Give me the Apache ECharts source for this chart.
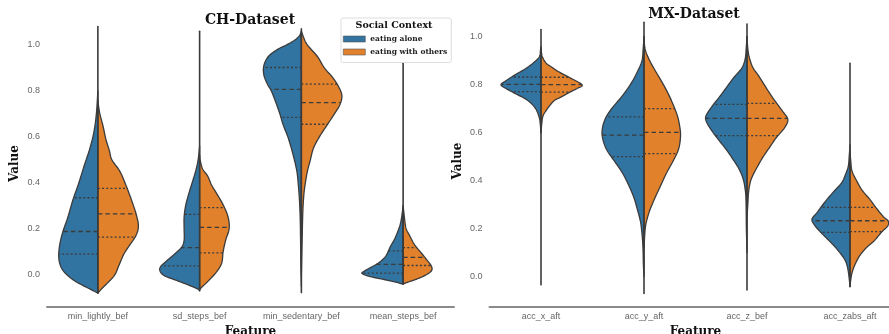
<!DOCTYPE html>
<html>
<head>
<meta charset="utf-8">
<script src="https://cdn.jsdelivr.net/npm/echarts@6/dist/echarts.min.js"></script>
<style>
  html, body { margin: 0; padding: 0; background: #ffffff; }
  #chart { width: 889px; height: 334px; }
</style>
</head>
<body>
<div id="chart"></div>
<script>
// ---- data -------------------------------------------------------------
const groups = ['eating alone', 'eating with others'];
const chFeatures = ['min_lightly_bef', 'sd_steps_bef', 'min_sedentary_bef', 'mean_steps_bef'];
const mxFeatures = ['acc_x_aft', 'acc_y_aft', 'acc_z_bef', 'acc_zabs_aft'];
const yTicks = [0, 0.2, 0.4, 0.6, 0.8, 1.0];

// kernel density profiles, [value, density], from high value to low value
const chAloneDensity = [
  [[0.80,0],[0.70,1.5],[0.62,4],[0.55,8],[0.47,14],[0.40,19],[0.325,25],[0.25,30],[0.18,35.5],[0.12,38.5],[0.07,39],[0.03,36.5],[0.0,31],[-0.03,22],[-0.06,9],[-0.08,0]],
  [[0.56,0],[0.50,1.5],[0.45,4],[0.40,7.5],[0.35,11],[0.30,14],[0.25,15.5],[0.20,15.5],[0.15,15.5],[0.12,18],[0.09,25],[0.06,33],[0.035,39],[0.015,39.5],[-0.005,35],[-0.025,23],[-0.045,11],[-0.062,2],[-0.07,0]],
  [[1.06,0],[1.04,2],[1.02,7],[1.00,15],[0.98,24],[0.95,33],[0.91,37.5],[0.87,37.5],[0.83,34],[0.80,30],[0.75,25.5],[0.70,21.5],[0.65,18],[0.60,13.5],[0.55,10],[0.50,7],[0.45,4.5],[0.40,3.2],[0.33,2],[0.25,1.2],[0.15,0.8],[0.05,0.5],[-0.05,0]],
  [[0.30,0],[0.25,1.5],[0.21,3.5],[0.16,8],[0.12,13],[0.08,17.5],[0.05,25],[0.03,33],[0.015,39],[0.005,41],[-0.008,33],[-0.022,18],[-0.035,5],[-0.042,0]]
];
const chOthersDensity = [
  [[0.76,0],[0.74,0.5],[0.70,2],[0.65,5],[0.59,8],[0.54,11.5],[0.50,14],[0.45,22],[0.39,28],[0.32,34],[0.26,38.5],[0.21,40.5],[0.17,38],[0.13,32],[0.09,26],[0.04,21],[0.0,17],[-0.03,11],[-0.06,4],[-0.08,0]],
  [[0.52,0],[0.50,0.5],[0.46,3],[0.43,8],[0.39,12],[0.35,17.5],[0.30,24],[0.25,28.5],[0.20,29.5],[0.15,26],[0.10,23.5],[0.05,22],[0.01,16.5],[-0.03,8],[-0.055,2],[-0.065,0]],
  [[1.06,0],[1.03,2.5],[1.0,6],[0.95,16],[0.90,23],[0.86,31],[0.82,37],[0.78,40.5],[0.74,38.5],[0.70,33],[0.65,25.5],[0.60,18],[0.55,12],[0.50,9],[0.45,6],[0.40,4],[0.35,2.5],[0.28,1.5],[0.2,1],[0.1,0.5],[0.0,0]],
  [[0.30,0],[0.28,0.5],[0.23,1.8],[0.20,3],[0.17,6.5],[0.13,11.5],[0.09,19],[0.06,24.5],[0.035,28.5],[0.015,28],[-0.005,21],[-0.02,13],[-0.032,5],[-0.04,0]]
];
const mxAloneDensity = [
  [[0.96,0],[0.94,0.6],[0.92,1.2],[0.90,5],[0.87,14],[0.84,26],[0.815,35],[0.80,39.5],[0.785,35],[0.76,24],[0.74,15],[0.715,8],[0.69,4],[0.66,1.5],[0.64,0.8],[0.60,0]],
  [[1.0,0],[0.95,0.8],[0.90,2],[0.85,7],[0.80,13.5],[0.75,22],[0.70,32],[0.66,38],[0.62,41],[0.58,41],[0.53,37],[0.48,29],[0.43,21],[0.38,15],[0.33,10],[0.28,6.5],[0.23,3.5],[0.18,2],[0.12,1],[0.05,0.6],[0.0,0]],
  [[1.0,0],[0.95,0.8],[0.91,1.7],[0.87,5],[0.83,13],[0.79,20],[0.75,27],[0.71,34.5],[0.67,40.5],[0.645,40],[0.61,35],[0.57,28],[0.53,20.5],[0.49,14],[0.45,8],[0.41,4],[0.37,2],[0.32,1],[0.2,0.6],[0.1,0]],
  [[0.55,0],[0.50,0.8],[0.46,1.7],[0.42,5],[0.39,8.5],[0.35,17],[0.31,25],[0.27,32],[0.24,37.5],[0.215,35],[0.19,30],[0.16,23],[0.13,16],[0.10,10],[0.07,5],[0.04,2.5],[0.0,1],[-0.04,0]]
];
const mxOthersDensity = [
  [[0.95,0],[0.93,0.6],[0.915,1.5],[0.89,5],[0.875,10],[0.855,17],[0.83,28],[0.80,40.5],[0.785,36],[0.77,29],[0.75,20.5],[0.735,13.5],[0.715,9],[0.695,5.5],[0.67,2],[0.64,0.8],[0.60,0]],
  [[1.0,0],[0.95,1],[0.91,4.5],[0.87,9.5],[0.82,16.5],[0.77,23],[0.72,28.5],[0.67,33],[0.62,35.5],[0.58,36],[0.53,34],[0.48,28.5],[0.43,22],[0.38,16.5],[0.33,11],[0.28,6],[0.24,3],[0.21,1.5],[0.18,0.8],[0.12,0]],
  [[1.0,0],[0.95,0.8],[0.91,2.5],[0.87,6],[0.84,11],[0.80,17],[0.77,21.5],[0.73,28],[0.69,35],[0.655,40.3],[0.62,37],[0.58,29],[0.54,22.5],[0.50,16],[0.46,10.5],[0.42,5.5],[0.39,3],[0.35,1.5],[0.30,0.8],[0.25,0]],
  [[0.52,0],[0.48,0.8],[0.44,2],[0.40,6.5],[0.36,12],[0.32,20],[0.28,27],[0.25,33],[0.23,38],[0.21,37],[0.185,31],[0.15,24],[0.12,16],[0.09,10],[0.06,6],[0.03,3],[0.0,1.2],[-0.04,0]]
];

// quartiles [Q1, median, Q3]
const chAloneQuartiles  = [[0.09,0.188,0.335],[0.038,0.118,0.263],[0.685,0.807,0.902],[0.007,0.045,0.104]];
const chOthersQuartiles = [[0.164,0.265,0.376],[0.095,0.206,0.292],[0.655,0.749,0.830],[0.040,0.075,0.118]];
const mxAloneQuartiles  = [[0.771,0.801,0.832],[0.500,0.590,0.666],[0.588,0.660,0.718],[0.185,0.233,0.289]];
const mxOthersQuartiles = [[0.769,0.800,0.831],[0.513,0.601,0.700],[0.588,0.660,0.722],[0.188,0.233,0.289]];

// full observed range [min, max] of each feature
const chRange = [[-0.08,1.08],[-0.07,1.06],[-0.078,1.07],[-0.04,0.92]];
const mxRange = [[-0.034,1.03],[-0.07,1.06],[-0.055,1.053],[-0.042,0.889]];

// ---- styling ----------------------------------------------------------
const BLUE = '#3274a1';
const ORANGE = '#e1812c';
const EDGE = '#3b3b3b';
const DENSITY_PER_BAND = 101.7;   // density units spanning one category band
const SERIF = '"DejaVu Serif", "Liberation Serif", serif';
const SANS = '"Liberation Sans", Arial, sans-serif';

// Catmull-Rom curve through the outline points, sampled as a polyline
function smoothOutline(pts, cx, side) {
  const out = [pts[0]];
  const n = pts.length;
  const clampX = x => (side < 0 ? Math.min(x, cx) : Math.max(x, cx));
  for (let i = 0; i < n - 1; i++) {
    const p0 = pts[i - 1] || pts[i];
    const p1 = pts[i];
    const p2 = pts[i + 1];
    const p3 = pts[i + 2] || pts[i + 1];
    const c1 = [clampX(p1[0] + (p2[0] - p0[0]) / 6), p1[1] + (p2[1] - p0[1]) / 6];
    const c2 = [clampX(p2[0] - (p3[0] - p1[0]) / 6), p2[1] - (p3[1] - p1[1]) / 6];
    const steps = 8;
    for (let s = 1; s <= steps; s++) {
      const t = s / steps, u = 1 - t;
      out.push([
        u*u*u*p1[0] + 3*u*u*t*c1[0] + 3*u*t*t*c2[0] + t*t*t*p2[0],
        u*u*u*p1[1] + 3*u*u*t*c1[1] + 3*u*t*t*c2[1] + t*t*t*p2[1]
      ]);
    }
  }
  return out;
}

function densityAt(profile, v) {
  for (let i = 0; i < profile.length - 1; i++) {
    const [va, da] = profile[i], [vb, db] = profile[i + 1];
    if (v <= va && v >= vb) {
      const t = (va - v) / (va - vb);
      return da + (db - da) * t;
    }
  }
  return 0;
}

function halfViolin(densities, quartiles, side, color) {
  return function (params, api) {
    const i = api.value(0);
    const prof = densities[i];
    const band = api.size([1, 0])[0];
    const k = band / DENSITY_PER_BAND;
    const cx = api.coord([i, 0])[0];
    const pts = prof.map(([v, d]) => [cx + side * d * k, api.coord([i, v])[1]]);
    const outline = smoothOutline(pts, cx, side);
    const children = [{
      type: 'polygon',
      shape: { points: outline },
      style: { fill: color, stroke: EDGE, lineWidth: 1.3, lineJoin: 'round' }
    }];
    quartiles[i].forEach((q, j) => {
      const y = api.coord([i, q])[1];
      const w = densityAt(prof, q) * k;
      children.push({
        type: 'line',
        shape: { x1: cx, y1: y, x2: cx + side * w, y2: y },
        style: {
          stroke: EDGE, lineWidth: 1.3,
          lineDash: j === 1 ? [4.5, 3] : [2, 2.2]
        }
      });
    });
    return { type: 'group', children };
  };
}

function rangeStick(ranges) {
  return function (params, api) {
    const i = api.value(0);
    const lo = api.coord([i, ranges[i][0]]);
    const hi = api.coord([i, ranges[i][1]]);
    return {
      type: 'line',
      shape: { x1: lo[0], y1: lo[1], x2: hi[0], y2: hi[1] },
      style: { stroke: EDGE, lineWidth: 1.6, lineCap: 'round' }
    };
  };
}

function xAxisFor(gridIndex, features) {
  return {
    type: 'category', gridIndex, data: features,
    name: 'Feature', nameLocation: 'middle', nameGap: 16,
    nameTextStyle: { fontFamily: SERIF, fontWeight: 'bold', fontSize: 12, color: '#111' },
    axisLine: { show: true, onZero: false, lineStyle: { color: '#8a8a8a', width: 2 } },
    axisTick: { show: false },
    axisLabel: { margin: 5, fontFamily: SANS, fontSize: 9, color: '#666' },
    splitLine: { show: false }
  };
}

function yAxisFor(gridIndex, min, max) {
  return {
    type: 'value', gridIndex, min, max,
    name: 'Value', nameLocation: 'middle', nameGap: 26, nameRotate: 90,
    nameTextStyle: { fontFamily: SERIF, fontWeight: 'bold', fontSize: 12, color: '#111' },
    axisLine: { show: false }, axisTick: { show: false }, splitLine: { show: false },
    axisLabel: {
      customValues: yTicks, margin: 7, fontFamily: SANS, fontSize: 9, color: '#666',
      formatter: v => v.toFixed(1)
    }
  };
}

function panelSeries(idx, features, aloneD, othersD, aloneQ, othersQ, ranges) {
  const data = features.map((f, i) => [i, aloneQ[i][1]]);
  const base = { type: 'custom', xAxisIndex: idx, yAxisIndex: idx, encode: { x: 0, y: 1 }, data, clip: false };
  return [
    Object.assign({}, base, {
      name: groups[0], renderItem: halfViolin(aloneD, aloneQ, -1, BLUE),
      itemStyle: { color: BLUE, borderColor: EDGE, borderWidth: 1 }
    }),
    Object.assign({}, base, {
      name: groups[1], renderItem: halfViolin(othersD, othersQ, 1, ORANGE),
      itemStyle: { color: ORANGE, borderColor: EDGE, borderWidth: 1 }
    }),
    Object.assign({}, base, { name: 'range', renderItem: rangeStick(ranges), z: 3 })
  ];
}

const chart = echarts.init(document.getElementById('chart'), null, { renderer: 'canvas' });
chart.setOption({
  animation: false,
  backgroundColor: '#ffffff',
  grid: [
    { left: 47, top: 20, width: 407, height: 287, outerBoundsMode: 'none', containLabel: false },
    { left: 489.5, top: 15, width: 412, height: 292, outerBoundsMode: 'none', containLabel: false }
  ],
  xAxis: [xAxisFor(0, chFeatures), xAxisFor(1, mxFeatures)],
  yAxis: [yAxisFor(0, -0.1406, 1.1088), yAxisFor(1, -0.1263, 1.0904)],
  legend: {
    data: groups, left: 341, top: 18, orient: 'vertical',
    padding: [16, 4, 5.5, 2], itemGap: 3, itemWidth: 22, itemHeight: 6, icon: 'rect',
    itemStyle: { borderWidth: 0.6, borderColor: '#555' },
    backgroundColor: '#ffffff', borderColor: '#dddddd', borderWidth: 1, borderRadius: 2,
    textStyle: { fontFamily: SERIF, fontWeight: 'bold', fontSize: 7.5, color: '#222', lineHeight: 10 }
  },
  graphic: [
    { type: 'text', x: 250, y: 20, z: 10, style: { text: 'CH-Dataset', align: 'center', verticalAlign: 'middle', font: 'bold 14px ' + SERIF, fill: '#111' } },
    { type: 'text', x: 694, y: 14, z: 10, style: { text: 'MX-Dataset', align: 'center', verticalAlign: 'middle', font: 'bold 14px ' + SERIF, fill: '#111' } },
    { type: 'text', x: 394, y: 26, z: 100, style: { text: 'Social Context', align: 'center', verticalAlign: 'middle', font: 'bold 9.5px ' + SERIF, fill: '#111' } }
  ],
  series: [
    ...panelSeries(0, chFeatures, chAloneDensity, chOthersDensity, chAloneQuartiles, chOthersQuartiles, chRange),
    ...panelSeries(1, mxFeatures, mxAloneDensity, mxOthersDensity, mxAloneQuartiles, mxOthersQuartiles, mxRange)
  ]
});
</script>
</body>
</html>
